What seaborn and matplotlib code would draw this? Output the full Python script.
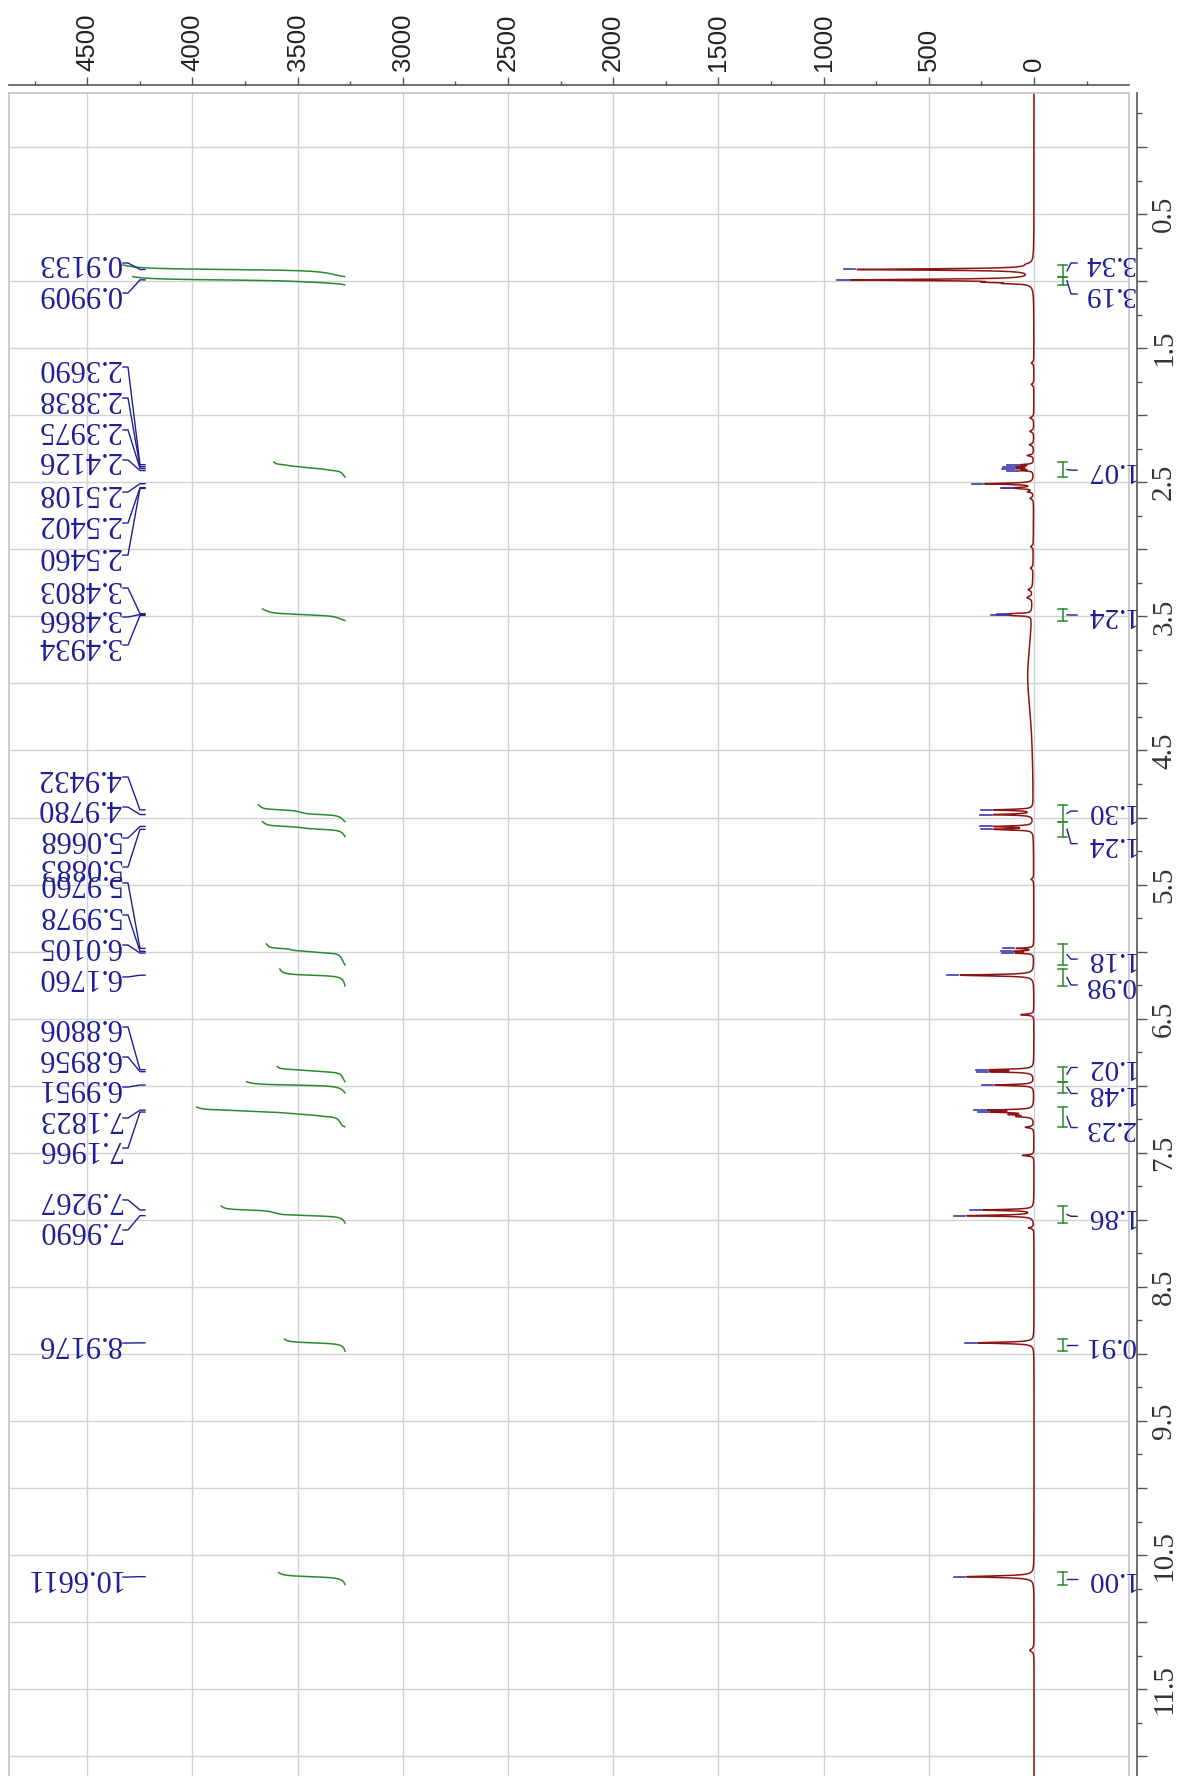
import numpy as np
import matplotlib
matplotlib.use("Agg")
import matplotlib.pyplot as plt
import seaborn as sns
from matplotlib.ticker import MultipleLocator, FuncFormatter

# ---------------- data ----------------
# picked peaks: chemical shift (ppm), height (intensity), half width (ppm)
label_ppm = [0.9133, 0.9909, 2.3690, 2.3838, 2.3975, 2.4126, 2.5108, 2.5402, 2.5460,
             3.4803, 3.4866, 3.4934, 4.9432, 4.9780, 5.0668, 5.0883, 5.9760, 5.9978,
             6.0105, 6.1760, 6.8806, 6.8956, 6.9951, 7.1823, 7.1966, 7.9267, 7.9690,
             8.9176, 10.6611]
label_height = [835, 859, 55, 75, 75, 55, 230, 65, 60,
                70, 95, 70, 185, 185, 180, 180, 80, 85,
                80, 350, 195, 190, 185, 200, 175, 240, 315,
                265, 320]
label_hwhm = [0.006, 0.006, 0.004, 0.004, 0.004, 0.004, 0.005, 0.004, 0.004,
              0.004, 0.004, 0.004, 0.005, 0.005, 0.005, 0.005, 0.004, 0.004,
              0.004, 0.006, 0.005, 0.005, 0.005, 0.005, 0.005, 0.005, 0.005,
              0.006, 0.007]
# small unlabelled signals
extra_ppm = [0.875, 1.008, 1.018, 1.61, 1.77, 2.02, 2.12, 2.22, 2.30, 2.57, 2.62,
             2.98, 3.14, 3.30, 3.36, 3.95, 5.46, 6.47, 7.215, 7.230, 7.31, 7.52,
             8.06, 11.21]
extra_height = [20, 140, 90, 12, 12, 18, 18, 20, 30, 25, 15,
                12, 12, 20, 25, 30, 12, 62, 100, 70, 40, 55,
                25, 20]
extra_hwhm = [0.01, 0.004, 0.004, 0.008, 0.008, 0.008, 0.008, 0.008, 0.006, 0.006, 0.008,
              0.008, 0.008, 0.01, 0.01, 0.35, 0.008, 0.005, 0.005, 0.005, 0.006, 0.005,
              0.006, 0.012]

# integrals: value, start / end (ppm)
int_value = [3.34, 3.19, 1.07, 1.24, 1.30, 1.24, 1.18, 0.98, 1.02, 1.48, 2.23, 1.86, 0.91, 1.00]
int_start = [0.880, 0.967, 2.349, 3.445, 4.906, 5.031, 5.943, 6.130, 6.858, 6.970, 7.159, 7.897, 8.890, 10.630]
int_end = [0.967, 1.029, 2.461, 3.532, 5.031, 5.143, 6.100, 6.256, 6.970, 7.054, 7.306, 8.024, 8.980, 10.720]

# axis ticks
x_major = list(range(0, 5000, 500))

# ---------------- layout (pixels of the 1187x1776 figure) ----------------
W, H = 1187, 1776
PX_PER_UNIT = 0.21038          # horizontal pixels per intensity unit
ZERO_PX = 1034.0               # pixel column of intensity 0
PX_PER_PPM = 134.1
PPM0_PX = 147.0


def px2int(px):
    return (ZERO_PX - px) / PX_PER_UNIT


# label positions (ppm) as laid out in the reference
label_pos = [0.865, 1.089, 1.641, 1.872, 2.110, 2.334, 2.573, 2.804, 3.043,
             3.289, 3.505, 3.714, 4.698, 4.922, 5.153, 5.369, 5.488, 5.727,
             5.951, 6.189, 6.562, 6.786, 7.010, 7.241, 7.465, 7.852, 8.076,
             8.919, 10.664]
int_label_pos = [0.865, 1.096, 2.41, 3.49, 4.952, 5.195, 6.056, 6.249, 6.864, 7.058,
                 7.312, 7.974, 8.935, 10.675]

RED = "#8e1414"
GREEN = "#2a8a2a"
NAVY = "#1e1e96"
GRID = "#d2d2d2"
SPINE = "#555555"

plt.rcParams["font.serif"] = ["Liberation Serif", "DejaVu Serif"]
plt.rcParams["font.sans-serif"] = ["Liberation Sans", "DejaVu Sans"]

# ---------------- spectrum model ----------------
ppm = np.arange(-0.45, 12.25, 0.0005)
pk_p = np.array(label_ppm + extra_ppm)
pk_h = np.array(label_height + extra_height, dtype=float)
pk_g = np.array(label_hwhm + extra_hwhm)
inten = np.zeros_like(ppm)
for p, h, g in zip(pk_p, pk_h, pk_g):
    inten += h * g ** 2 / ((ppm - p) ** 2 + g ** 2)

# ---------------- figure ----------------
fig = plt.figure(figsize=(W / 100, H / 100), dpi=100)
rect = [9 / W, 0.0, (1129 - 9) / W, 1 - 93 / H]
ax = fig.add_axes(rect)
ax2 = fig.add_axes(rect)

xlim = (px2int(9), px2int(1129))
ylim = ((H - PPM0_PX) / PX_PER_PPM, (93 - PPM0_PX) / PX_PER_PPM)
for a in (ax, ax2):
    a.set_xlim(*xlim)
    a.set_ylim(*ylim)

# background axes: light frame and grid
ax.set_facecolor("white")
for s in ["left", "top", "right"]:
    ax.spines[s].set_color("#c4c4c4")
    ax.spines[s].set_linewidth(1.2)
ax.spines["bottom"].set_visible(False)
ax.set_xticks(x_major)
ax.set_yticks(np.arange(0, 12.01, 0.5))
ax.grid(True, color=GRID, linewidth=1.0)
ax.tick_params(length=0, labelbottom=False, labelleft=False)
ax.set_axisbelow(True)

# spectrum
sns.lineplot(x=inten, y=ppm, sort=False, estimator=None, color=RED,
             linewidth=1.1, ax=ax, legend=False)

# integrals
INT_BASE = px2int(345)
INT_SCALE = 66.5 / PX_PER_UNIT
for v, a0, b0 in zip(int_value, int_start, int_end):
    m = (ppm >= a0) & (ppm <= b0)
    sp = ppm[m][::-1]
    si = inten[m][::-1]
    cum = np.cumsum(si)
    cum = cum / cum[-1]
    sns.lineplot(x=INT_BASE + cum * v * INT_SCALE, y=sp, sort=False, estimator=None,
                 color=GREEN, linewidth=1.1, ax=ax, legend=False)

# peak labels
for p, lp in zip(label_ppm, label_pos):
    hmod = np.interp(p, ppm, inten)
    ax.plot([hmod + 8, hmod + 62], [p, p], color="#3a3ab0", linewidth=1.2)
    ax.plot([px2int(123), px2int(128), px2int(140), px2int(145)], [lp, lp, p, p],
            color=NAVY, linewidth=1.0)
    ax.text(px2int(121), lp, f"{p:.4f}", rotation=180, ha="right", va="center",
            fontsize=22, family="serif", color=NAVY)

# integral labels
for v, a0, b0, lp in zip(int_value, int_start, int_end, int_label_pos):
    xb = px2int(1062.5)
    ax.plot([xb, xb], [a0, b0], color=GREEN, linewidth=1.1, clip_on=False)
    for yy in (a0, b0):
        ax.plot([px2int(1058), px2int(1067)], [yy, yy], color=GREEN, linewidth=1.1,
                clip_on=False)
    mid = 0.5 * (a0 + b0)
    ax.plot([px2int(1067), px2int(1071), px2int(1077)], [mid, lp, lp], color=NAVY,
            linewidth=1.0, clip_on=False)
    ax.text(px2int(1135), lp, f"{v:.2f}", rotation=180, ha="right", va="center",
            fontsize=21, family="serif", color=NAVY, clip_on=False)

# overlay axes with the offset scales (top: intensity, right: ppm)
ax2.patch.set_visible(False)
ax2.grid(False)
for s in ["left", "bottom"]:
    ax2.spines[s].set_visible(False)
for s in ["top", "right"]:
    ax2.spines[s].set_position(("outward", 5.8))
    ax2.spines[s].set_color(SPINE)
    ax2.spines[s].set_linewidth(1.2)
ax2.xaxis.tick_top()
ax2.yaxis.tick_right()
ax2.xaxis.set_major_locator(MultipleLocator(500))
ax2.xaxis.set_minor_locator(MultipleLocator(250))
ax2.yaxis.set_major_locator(MultipleLocator(0.5))
ax2.yaxis.set_minor_locator(MultipleLocator(0.25))
ax2.xaxis.set_major_formatter(FuncFormatter(lambda v, p: f"{int(round(v))}"))
ax2.yaxis.set_major_formatter(
    FuncFormatter(lambda v, p: f"{v:.1f}" if abs((v % 1.0) - 0.5) < 1e-6 else ""))
ax2.tick_params(axis="x", which="major", direction="out", length=5.8, width=1.0,
                color=SPINE, labelsize=18.5, labelrotation=90, pad=4.5,
                labelcolor="#222222", labelfontfamily="sans-serif")
ax2.tick_params(axis="x", which="minor", direction="out", length=3, width=1.0, color=SPINE)
ax2.tick_params(axis="y", which="major", direction="out", length=7.2, width=1.0,
                color=SPINE, labelsize=21, labelrotation=90, pad=3,
                labelcolor="#333333", labelfontfamily="serif")
ax2.tick_params(axis="y", which="minor", direction="out", length=3.6, width=1.0, color=SPINE)
ax2.tick_params(labelbottom=False, labelleft=False, bottom=False, left=False)
for lbl in ax2.get_yticklabels():
    lbl.set_verticalalignment("center")

fig.savefig("out.png", dpi=100)
